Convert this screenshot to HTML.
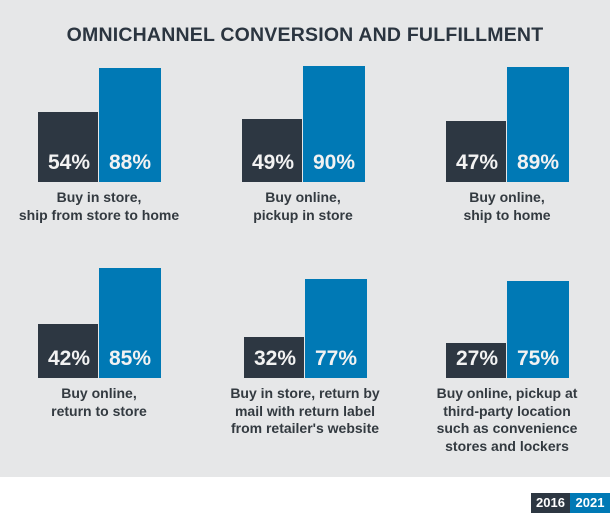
<!DOCTYPE html>
<html><head><meta charset="utf-8"><style>
body{margin:0;width:610px;height:516px;background:#fff;overflow:hidden;font-family:"Liberation Sans",sans-serif}
#bg{position:absolute;left:0;top:0;width:610px;height:477px;background:#e6e7e8}
#title{position:absolute;left:0;top:24px;width:610px;text-align:center;font-weight:bold;font-size:19.5px;color:#2b3540;letter-spacing:0.2px}
.bar{position:absolute}
.val{position:absolute;color:#f2f2f2;font-weight:bold;font-size:21px;text-align:center}
.lbl{position:absolute;width:200px;text-align:center;font-weight:bold;font-size:14px;line-height:17.5px;color:#333a40}
.leg{position:absolute;top:493px;height:20px;color:#fff;font-weight:bold;font-size:13px;line-height:20px;text-align:center}
</style></head><body>
<div id="bg"></div>
<div id="title">OMNICHANNEL CONVERSION AND FULFILLMENT</div>
<div id="chart"></div>
<div class="leg" style="left:531px;width:39px;background:#2d3742">2016</div>
<div class="leg" style="left:570px;width:40px;background:#0079b5">2021</div>
<script>
const categories=["Buy in store,<br>ship from store to home","Buy online,<br>pickup in store","Buy online,<br>ship to home","Buy online,<br>return to store","Buy in store, return by<br>mail with return label<br>from retailer's website","Buy online, pickup at<br>third-party location<br>such as convenience<br>stores and lockers"];
const values2016=[54,49,47,42,32,27];
const values2021=[88,90,89,85,77,75];
const scale=1.29;
const xs=[38,242,446,38,244,446];
const bases=[182,182,182,378,378,378];
const chart=document.getElementById('chart');
function y(v){return v*scale;}
for(let i=0;i<categories.length;i++){
  const x=xs[i],b=bases[i];
  const d=document.createElement('div');d.className='bar';
  
  
  d.style.cssText=`left:${x}px;width:60px;top:${b-y(values2016[i])}px;height:${y(values2016[i])}px;background:#2d3742`;
  chart.appendChild(d);
  const e=document.createElement('div');e.className='bar';
  
  
  e.style.cssText=`left:${x+61}px;width:62px;top:${b-y(values2021[i])}px;height:${y(values2021[i])}px;background:#0079b5`;
  chart.appendChild(e);
  const v1=document.createElement('div');v1.className='val';
  
  
  v1.style.cssText=`left:${x}px;width:62px;top:${b-31}px`;v1.textContent=values2016[i]+'%';
  chart.appendChild(v1);
  const v2=document.createElement('div');v2.className='val';
  
  
  v2.style.cssText=`left:${x+61}px;width:62px;top:${b-31}px`;v2.textContent=values2021[i]+'%';
  chart.appendChild(v2);
  const l=document.createElement('div');l.className='lbl';
  
  
  l.style.cssText=`left:${x+61-100}px;top:${b+7}px`;l.innerHTML=categories[i];
  chart.appendChild(l);
}
</script>
</body></html>
